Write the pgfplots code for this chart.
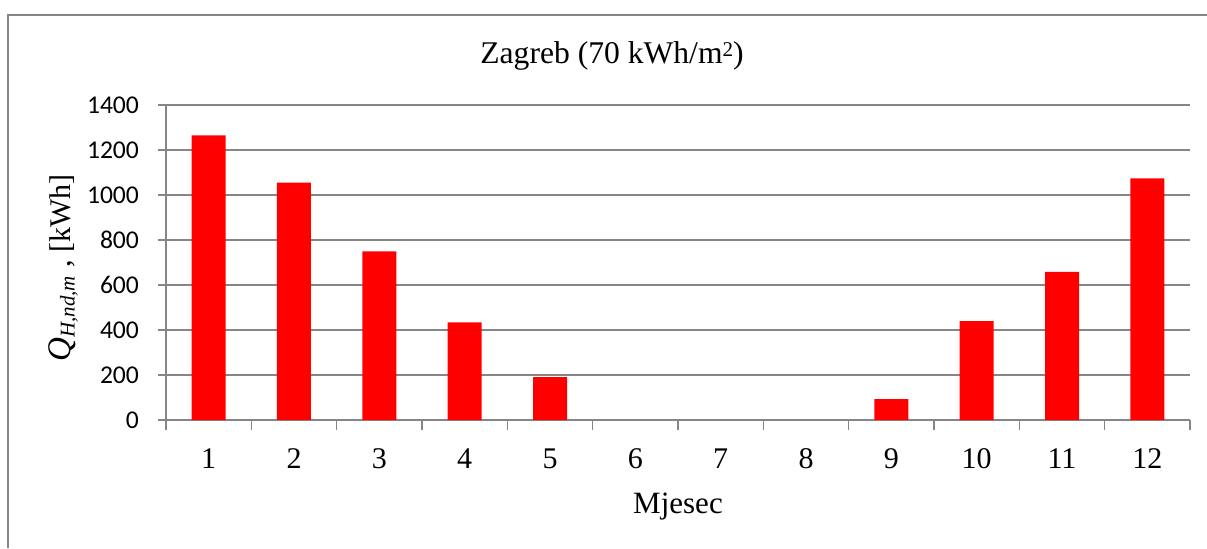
\documentclass[border=0pt]{standalone}
\usepackage{fontspec}
\setmainfont{Liberation Serif}
\newfontfamily\carlito{Carlito}
\usepackage{pgfplots}
\pgfplotsset{compat=1.18}
\definecolor{axgray}{RGB}{134,134,134}
\begin{document}
\begin{tikzpicture}[x=0.5pt,y=-0.5pt]
\useasboundingbox (0,0) rectangle (1207,548);
\draw[axgray, line width=0.75pt] (8,548) -- (8,15) -- (1207,15);
\begin{axis}[
  at={(83pt,-210pt)}, anchor=south west,
  scale only axis, width=512pt, height=157.5pt,
  xmin=0.5, xmax=12.5, ymin=0, ymax=1400,
  axis x line*=bottom, axis y line*=left,
  axis line style={axgray, line width=0.75pt, -},
  ytick={0,200,...,1400}, ymajorgrids,
  grid style={axgray, line width=0.75pt},
  xtick={1,2,3,4,5,6,7,8,9,10,11,12},
  xticklabels={1,2,3,4,5,6,7,8,9,10,11,12},
  major x tick style={draw=none},
  minor xtick={0.5,1.5,2.5,3.5,4.5,5.5,6.5,7.5,8.5,9.5,10.5,11.5,12.5},
  minor tick length=5pt,
  minor x tick style={axgray, line width=0.75pt},
  tick align=outside, major tick length=4pt,
  y tick style={axgray, line width=0.75pt},
  xticklabel style={font=\fontsize{15}{18}\selectfont, anchor=base, yshift=-20pt},
  yticklabel style={font=\carlito\fontsize{12.8}{15}\selectfont, xshift=-6pt},
  /pgf/number format/assume math mode=true,
  /pgf/number format/1000 sep={},
  ybar, bar width=17pt,
]
\addplot[fill=red, draw=none] coordinates {(1,1265) (2,1055) (3,749) (4,434) (5,191) (9,93) (10,440) (11,658) (12,1074)};
\end{axis}
\node[anchor=base, font=\fontsize{15.8}{18}\selectfont] at (612,63) {Zagreb (70 kWh/m\raisebox{0.45ex}{\fontsize{10.5}{12}\selectfont 2})};
\node[anchor=base, font=\fontsize{15.5}{18}\selectfont] at (678,513) {Mjesec};
\node[rotate=90, anchor=base, font=\fontsize{15}{18}\selectfont] at (70,268) {{\fontsize{16.5}{18}\selectfont\textit{Q}}\textsubscript{\textit{H,nd,m}} , [kWh]};
\end{tikzpicture}
\end{document}
